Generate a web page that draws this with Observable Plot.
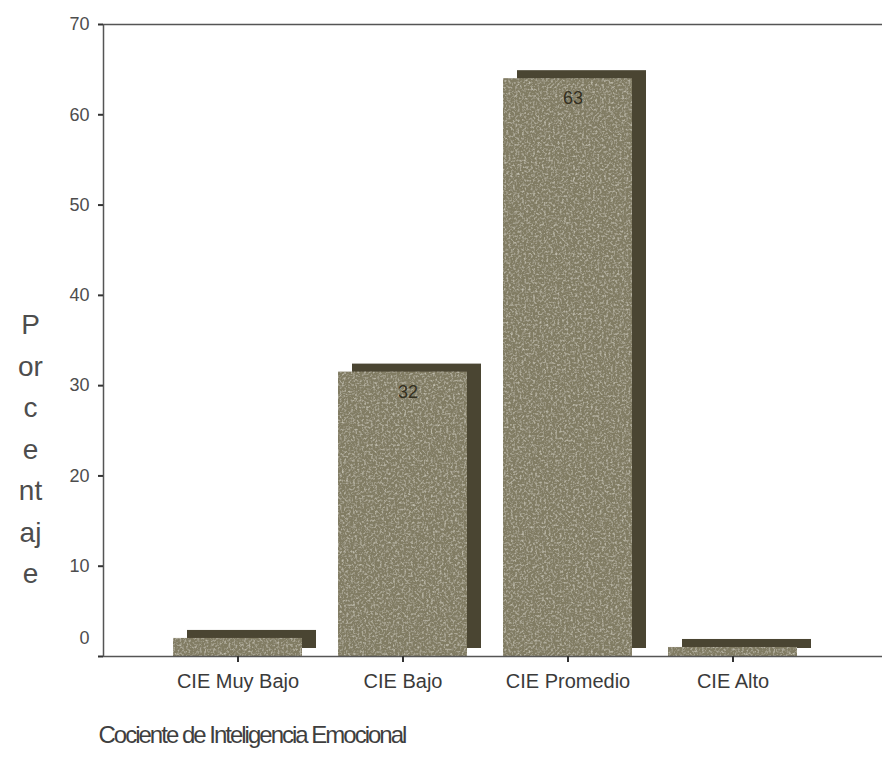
<!DOCTYPE html>
<html>
<head>
<meta charset="utf-8">
<script src="https://cdn.jsdelivr.net/npm/d3@7"></script>
<script src="https://cdn.jsdelivr.net/npm/@observablehq/plot@0.6"></script>
<style>
  html, body { margin: 0; padding: 0; background: #fff; }
</style>
</head>
<body>
<div id="chart"></div>
<script>
const categories = ["CIE Muy Bajo", "CIE Bajo", "CIE Promedio", "CIE Alto"];
const percents = [2, 31.5, 64, 1];
const valueLabels = ["", "32", "63", ""];
const yTicks = [10, 20, 30, 40, 50, 60, 70];
const zeroTick = [0];
const yTitleLines = ["P", "or", "c", "e", "nt", "aj", "e"];
const xTitle = "Cociente de Inteligencia Emocional";

const data = categories.map((c, i) => ({cat: c, pct: percents[i], label: valueLabels[i]}));

const font = "'Liberation Sans', Arial, sans-serif";
const ink = "#4d4d4d";

const chart = Plot.plot({
  width: 882,
  height: 759,
  marginLeft: 103,
  marginRight: 15,
  marginTop: 24,
  marginBottom: 103,
  style: {background: "#fff", fontFamily: font, color: ink},
  x: {domain: categories, paddingInner: 0.22, paddingOuter: 0.425, axis: null},
  y: {domain: [0, 70], axis: null},
  marks: [
    Plot.barY(data, {x: "cat", y: "pct", fill: "#4a4532", dx: 14, dy: -8}),
    Plot.barY(data, {x: "cat", y: "pct", fill: "#817b64"}),
    Plot.frame({stroke: "#555", strokeWidth: 1.5, insetRight: -20}),
    Plot.axisY(yTicks, {label: null, tickSize: 5, tickPadding: 9, fontSize: 18, stroke: "#333", fill: ink, strokeWidth: 2}),
    Plot.axisY(zeroTick, {label: null, tickSize: 5, tickFormat: () => "", stroke: "#333", strokeWidth: 2}),
    Plot.text(zeroTick, {y: d => d, text: d => String(d), frameAnchor: "left", dx: -14, dy: -18, textAnchor: "end", fontSize: 18, fill: ink}),
    Plot.axisX(categories, {label: null, tickSize: 6, tickPadding: 11, fontSize: 20, stroke: "#333", fill: "#3a3a3a", strokeWidth: 2}),
    Plot.text(data.filter(d => d.label), {x: "cat", y: "pct", text: "label", dy: 20, dx: 5, fontSize: 18, fill: "#34301f"}),
    Plot.text([yTitleLines.join("\n")], {text: d => d, frameAnchor: "left", dx: -73, dy: 105, fontSize: 28, lineHeight: 1.48, textAnchor: "middle", fill: ink}),
    Plot.text([xTitle], {text: d => d, frameAnchor: "bottom-left", dx: -5, dy: 86, textAnchor: "start", fontSize: 24, fill: "#3f3f3f"})
  ]
});

document.getElementById("chart").appendChild(chart);

// grain texture for scanned look
const ns = "http://www.w3.org/2000/svg";
const defs = document.createElementNS(ns, "defs");
defs.innerHTML = `
<filter id="grain" x="0" y="0" width="100%" height="100%">
  <feTurbulence type="fractalNoise" baseFrequency="0.45" numOctaves="2" seed="4" result="n"/>
  <feColorMatrix in="n" type="matrix" values="0 0 0 0 0.72  0 0 0 0 0.70  0 0 0 0 0.60  1.6 0 0 0 -0.75" result="sp"/>
  <feComposite in="sp" in2="SourceGraphic" operator="in" result="sp2"/>
  <feMerge><feMergeNode in="SourceGraphic"/><feMergeNode in="sp2"/></feMerge>
</filter>`;
chart.insertBefore(defs, chart.firstChild);
const bars = chart.querySelectorAll('g[aria-label="bar"]');
if (bars.length > 1) bars[1].setAttribute("filter", "url(#grain)");
chart.querySelectorAll('g[aria-label="text"] text').forEach(t => {
  if (t.textContent === xTitle) t.setAttribute("letter-spacing", "-2");
});
</script>
</body>
</html>
